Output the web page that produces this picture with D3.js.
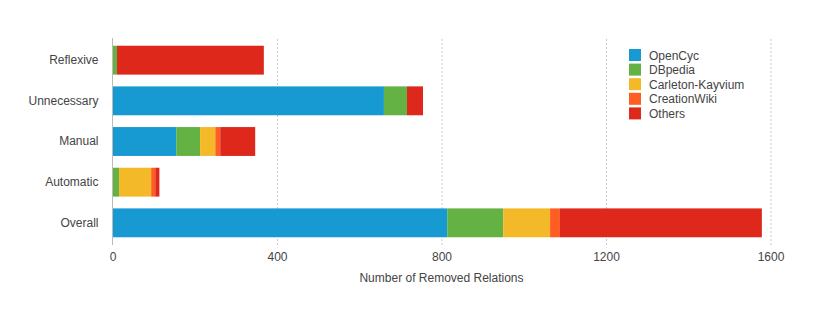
<!DOCTYPE html>
<html>
<head>
<meta charset="utf-8">
<script src="https://cdn.jsdelivr.net/npm/d3@7"></script>
<style>
  body { margin: 0; background: #fff; }
  svg { font-family: "Liberation Sans", Arial, sans-serif; }
</style>
</head>
<body>
<div id="chart"></div>
<script>
// categories (top to bottom)
var categories = ["Reflexive", "Unnecessary", "Manual", "Automatic", "Overall"];
var seriesNames = ["OpenCyc", "DBpedia", "Carleton-Kayvium", "CreationWiki", "Others"];
var colors = ["#1799d2", "#64b244", "#f3b928", "#fe5d24", "#de281c"];

// values per source, in category order
var openCyc = [0, 660, 155, 0, 814];
var dbpedia = [11, 56, 58, 16, 136];
var carleton = [0, 0, 37, 78, 114];
var creationWiki = [0, 0, 12, 10, 24];
var others = [357, 39, 85, 10, 491];

var xTicks = [0, 400, 800, 1200, 1600];

var table = categories.map((c, i) => ({
  cat: c,
  "OpenCyc": openCyc[i],
  "DBpedia": dbpedia[i],
  "Carleton-Kayvium": carleton[i],
  "CreationWiki": creationWiki[i],
  "Others": others[i]
}));

var width = 813, height = 314;
var plotTop = 38, plotBottom = 245, plotLeft = 112.5, plotRight = 770.5;

var svg = d3.select("#chart").append("svg")
  .attr("width", width)
  .attr("height", height);

var xScale = d3.scaleLinear().domain([0, 1600]).range([plotLeft, plotRight]);
var yScale = d3.scaleBand()
  .domain(categories)
  .range([plotTop, plotBottom])
  .paddingInner(0.29)
  .paddingOuter(0.19);

var color = d3.scaleOrdinal().domain(seriesNames).range(colors);

// grid lines
var grid = d3.axisBottom(xScale)
  .tickValues(xTicks.slice(1))
  .tickSize(-(plotBottom - plotTop))
  .tickFormat("");
svg.append("g")
  .attr("transform", `translate(0, ${plotBottom})`)
  .call(grid)
  .call(g => g.select(".domain").remove())
  .call(g => g.selectAll("line")
    .attr("stroke", "#c8c8c8")
    .attr("stroke-dasharray", "2,2"));

// stacked bars
var stacked = d3.stack().keys(seriesNames)(table);
svg.append("g")
  .selectAll("g")
  .data(stacked)
  .enter()
  .append("g")
  .attr("fill", d => color(d.key))
  .selectAll("rect")
  .data(d => d)
  .enter()
  .append("rect")
  .attr("x", d => xScale(d[0]))
  .attr("y", d => yScale(d.data.cat))
  .attr("width", d => xScale(d[1]) - xScale(d[0]))
  .attr("height", yScale.bandwidth());

// left axis line
svg.append("line")
  .attr("x1", xScale(0)).attr("x2", xScale(0))
  .attr("y1", plotTop).attr("y2", plotBottom)
  .attr("stroke", "#bbb")
  .attr("stroke-width", 1);

// x axis labels
var xAxis = d3.axisBottom(xScale)
  .tickValues(xTicks)
  .tickFormat(d3.format("d"))
  .tickSize(0)
  .tickPadding(7);
svg.append("g")
  .attr("transform", `translate(0, ${plotBottom})`)
  .call(xAxis)
  .call(g => g.select(".domain").remove())
  .call(g => g.selectAll("text")
    .attr("font-size", 12)
    .attr("fill", "#444")
    .attr("font-family", "Liberation Sans, Arial, sans-serif"));

// y axis labels
var yAxis = d3.axisLeft(yScale).tickSize(0).tickPadding(14);
svg.append("g")
  .attr("transform", `translate(${xScale(0)}, 0)`)
  .call(yAxis)
  .call(g => g.select(".domain").remove())
  .call(g => g.selectAll("text")
    .attr("font-size", 12)
    .attr("fill", "#444")
    .attr("font-family", "Liberation Sans, Arial, sans-serif"));

// axis title
svg.append("text")
  .attr("x", (plotLeft + plotRight) / 2)
  .attr("y", 282)
  .attr("text-anchor", "middle")
  .attr("font-size", 12)
  .attr("fill", "#444")
  .text("Number of Removed Relations");

// legend
var legend = svg.append("g").attr("transform", "translate(629, 49)");
var item = legend.selectAll("g")
  .data(seriesNames)
  .enter()
  .append("g")
  .attr("transform", (d, i) => `translate(0, ${i * 14.6})`);
item.append("rect")
  .attr("width", 12)
  .attr("height", 12)
  .attr("fill", d => color(d));
item.append("text")
  .attr("x", 20)
  .attr("y", 10.5)
  .attr("font-size", 12)
  .attr("fill", "#444")
  .text(d => d);
</script>
</body>
</html>
